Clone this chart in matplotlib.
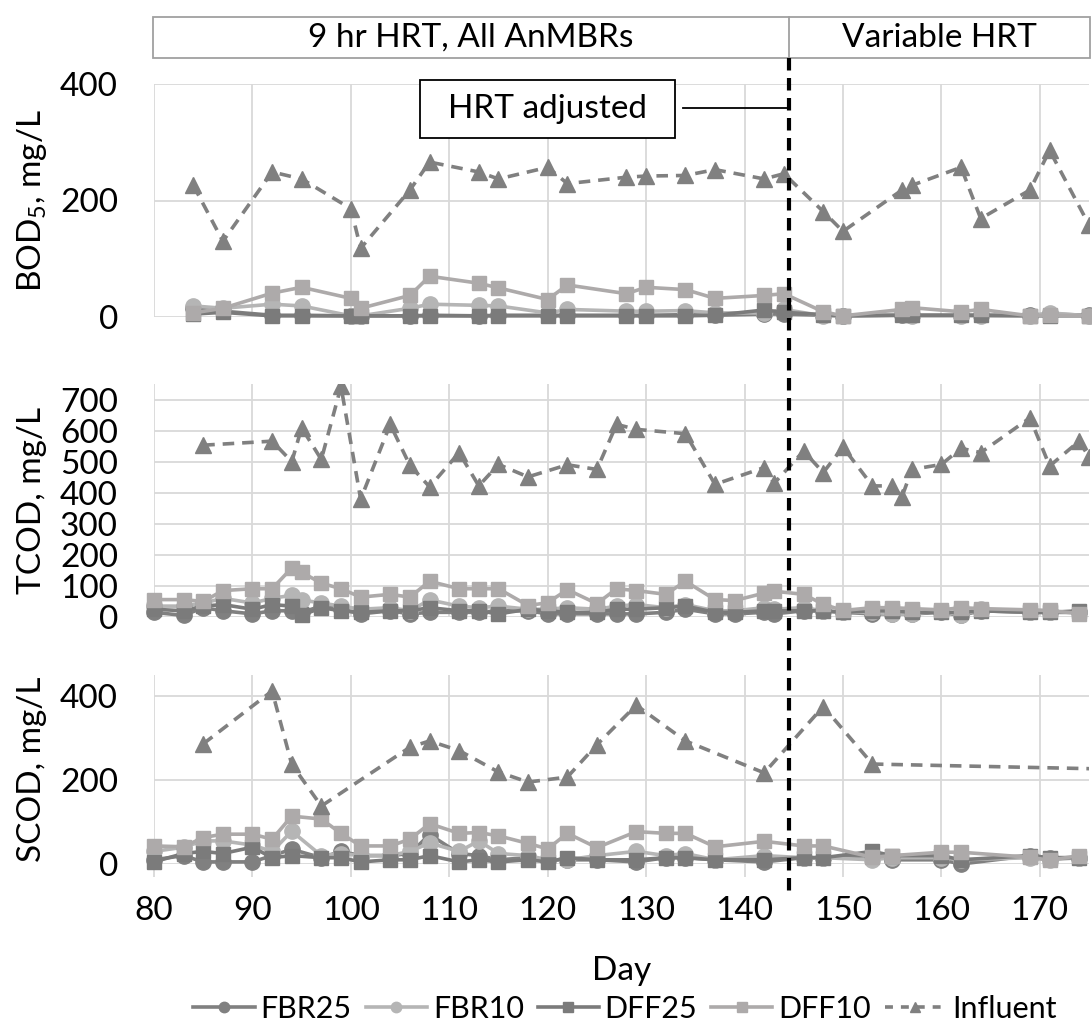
import matplotlib
matplotlib.use('Agg')
import matplotlib.pyplot as plt
from matplotlib.lines import Line2D
from matplotlib.patches import Rectangle

plt.rcParams['font.family'] = ['Lato', 'DejaVu Sans']
plt.rcParams['mathtext.fontset'] = 'custom'
plt.rcParams['mathtext.rm'] = 'Lato'
plt.rcParams['mathtext.it'] = 'Lato:italic'
plt.rcParams['mathtext.bf'] = 'Lato:bold'

# ---------------- data ----------------
series_names = ['FBR25', 'FBR10', 'DFF25', 'DFF10', 'Influent']

bod_days = [84, 87, 92, 95, 100, 101, 106, 108, 113, 115, 120, 122, 128, 130,
            134, 137, 142, 144, 148, 150, 156, 157, 162, 164, 169, 171, 175]
bod_fbr25 = [15, 10, 3, 3, 2, 2, 2, 3, 2, 3, 3, 3, 3, 3, 4, 3, 5, 5, 3, 2, 3, 3, 3, 3, 3, 5, 3]
bod_fbr10 = [19, 15, 22, 19, 2, 2, 15, 22, 20, 19, 7, 13, 10, 10, 11, 7, 7, 13, 2, 2, 5, 2, 2, 2, 2, 7, 2]
bod_dff25 = [5, 8, 2, 2, 2, 2, 2, 2, 2, 2, 2, 2, 2, 2, 2, 3, 12, 8, 4, 2, 3, 3, 3, 3, 2, 2, 2]
bod_dff10 = [7, 15, 41, 51, 32, 15, 37, 70, 58, 50, 30, 55, 40, 51, 47, 32, 37, 40, 9, 2, 13, 16, 9, 13, 2, 3, 2]
bod_infl = [226, 130, 249, 237, 186, 118, 218, 266, 249, 237, 257, 229, 240, 242,
            243, 253, 237, 246, 181, 147, 218, 226, 257, 169, 218, 286, 158]

tcod_days = [80, 83, 85, 87, 90, 92, 94, 95, 97, 99, 101, 104, 106, 108, 111, 113, 115, 118,
             120, 122, 125, 127, 129, 132, 134, 137, 139, 142, 143, 146, 148, 150, 153, 155,
             157, 160, 162, 164, 169, 171, 174]
tcod_fbr25 = [15, 5, 30, 20, 10, 20, 20, 15, 35, 25, 10, 20, 10, 15, 15, 15, 20, 20,
              10, 10, 10, 10, 10, 15, 25, 10, 10, 15, 10, 20, 20, 15, 10, 10,
              10, 15, 5, 20, 15, 15, 15]
tcod_fbr10 = [35, 35, 45, 60, 45, 60, 70, 55, 45, 35, 25, 30, 20, 55, 35, 30, 35, 25,
              25, 30, 25, 35, 40, 30, 40, 20, 20, 30, 25, 30, 20, 15, 15, 10,
              10, 20, 5, 25, 15, 15, 15]
tcod_dff25 = [25, 20, 35, 40, 25, 40, 35, 5, 30, 20, 15, 20, 20, 30, 20, 20, 10, 25,
              20, 15, 15, 25, 25, 30, 35, 15, 15, 20, 20, 20, 20, 15, 20, 20,
              15, 15, 15, 20, 15, 15, 20]
tcod_dff10 = [56, 56, 50, 85, 91, 91, 158, 144, 109, 91, 64, 73, 64, 115, 91, 91, 91, 37,
              46, 88, 43, 91, 85, 73, 115, 56, 53, 77, 83, 73, 41, 21, 30, 30,
              27, 23, 30, 27, 23, 21, 11]
tcod_infl_days = [85, 92, 94, 95, 97, 99, 101, 104, 106, 108, 111, 113, 115, 118, 122, 125,
                  127, 129, 134, 137, 142, 143, 146, 148, 150, 153, 155, 156, 157, 160,
                  162, 164, 169, 171, 174, 175]
tcod_infl = [553, 566, 500, 609, 507, 742, 379, 620, 488, 419, 529, 422, 491, 451, 490, 475,
             620, 604, 590, 427, 481, 430, 534, 465, 547, 422, 422, 387, 475, 491,
             543, 529, 641, 486, 566, 515]

scod_days = [80, 83, 85, 87, 90, 92, 94, 97, 99, 101, 104, 106, 108, 111, 113, 115, 118, 120,
             122, 125, 129, 132, 134, 137, 142, 146, 148, 153, 155, 160, 162, 169, 171, 174]
scod_fbr25 = [10, 20, 5, 5, 5, 20, 35, 15, 30, 20, 20, 25, 70, 25, 20, 10, 15, 10,
              10, 10, 5, 15, 15, 10, 5, 15, 15, 20, 10, 10, 0, 20, 15, 15]
scod_fbr10 = [30, 40, 55, 55, 45, 30, 78, 20, 25, 20, 20, 30, 50, 30, 55, 25, 20, 10,
              10, 20, 30, 20, 25, 10, 20, 15, 15, 10, 15, 15, 10, 15, 10, 15]
scod_dff25 = [5, 25, 30, 25, 40, 15, 20, 15, 15, 5, 10, 10, 20, 5, 10, 5, 10, 5,
              15, 10, 10, 15, 15, 10, 10, 15, 15, 30, 20, 20, 10, 20, 15, 15]
scod_dff10 = [43, 41, 63, 71, 71, 59, 114, 107, 73, 43, 43, 59, 96, 73, 75, 67, 49, 36,
              73, 39, 77, 73, 73, 41, 54, 43, 43, 16, 20, 28, 28, 16, 9, 20]
scod_infl_days = [85, 92, 94, 97, 106, 108, 111, 115, 118, 122, 125, 129, 134, 142, 148, 153, 177]
scod_infl = [286, 412, 237, 138, 278, 293, 270, 219, 195, 207, 284, 378, 293, 217, 375, 238, 226]

x_ticks = [80, 90, 100, 110, 120, 130, 140, 150, 160, 170]
x_limits = (80, 175)
hrt_change_day = 144.5

# ---------------- styles ----------------
styles = {
    'FBR25': dict(color='#808080', marker='o', ms=11, lw=2.6, ls='-'),
    'FBR10': dict(color='#b5b5b5', marker='o', ms=11, lw=2.6, ls='-'),
    'DFF25': dict(color='#7b7b7b', marker='s', ms=10, lw=2.6, ls='-'),
    'DFF10': dict(color='#adaaaa', marker='s', ms=10, lw=2.6, ls='-'),
    'Influent': dict(color='#808080', marker='^', ms=11, lw=2.6, ls=(0, (3.2, 2.2))),
}
FS = 24

W, H = 1092, 1024
fig = plt.figure(figsize=(W / 100, H / 100), dpi=100)


def box(l, t, r, b):
    return [l / W, 1 - b / H, (r - l) / W, (b - t) / H]


ax_top = fig.add_axes(box(154, 84, 1089, 317))
ax_mid = fig.add_axes(box(154, 384, 1089, 617))
ax_bot = fig.add_axes(box(154, 675, 1089, 864))

panels = [
    (ax_top, bod_days, [bod_fbr25, bod_fbr10, bod_dff25, bod_dff10], bod_days, bod_infl,
     (0, 400), [0, 200, 400], 'BOD$_5$, mg/L'),
    (ax_mid, tcod_days, [tcod_fbr25, tcod_fbr10, tcod_dff25, tcod_dff10], tcod_infl_days, tcod_infl,
     (0, 750), [0, 100, 200, 300, 400, 500, 600, 700], 'TCOD, mg/L'),
    (ax_bot, scod_days, [scod_fbr25, scod_fbr10, scod_dff25, scod_dff10], scod_infl_days, scod_infl,
     (0, 450), [0, 200, 400], 'SCOD, mg/L'),
]

grid_c = '#d9d9d9'
for ax, days, effl, idays, infl, ylim, yticks, ylabel in panels:
    for name, vals in zip(series_names[:4], effl):
        ax.plot(days, vals, clip_on=False, zorder=3, **styles[name])
    ax.plot(idays, infl, clip_on=True, zorder=4, **styles['Influent'])
    ax.set_xlim(*x_limits)
    ax.set_ylim(*ylim)
    ax.set_xticks(x_ticks)
    ax.set_yticks(yticks)
    ax.grid(True, color=grid_c, lw=1.3, zorder=0)
    ax.set_axisbelow(True)
    for s in ax.spines.values():
        s.set_visible(False)
    ax.tick_params(axis='y', length=0, pad=26, labelsize=FS)
    ax.tick_params(axis='x', length=0, labelbottom=False)
    bb = ax.get_position()
    fig.text(32 / W, (bb.y0 + bb.y1) / 2, ylabel, rotation=90, ha='center', va='center',
             fontsize=FS)

ax_bot.tick_params(axis='x', length=9, width=1.3, color=grid_c, direction='out',
                   pad=14, labelbottom=True, labelsize=FS)

# ---------------- annotations ----------------
xpix = ax_top.transData.transform((hrt_change_day, 0))[0]
xfig = xpix / W

# header box
hdr_top, hdr_bot = 17, 58
fig.patches.append(Rectangle((153 / W, 1 - hdr_bot / H), (1090 - 153) / W, (hdr_bot - hdr_top) / H,
                             transform=fig.transFigure, fill=False, ec='#a0a0a0', lw=1.3))
fig.lines.append(Line2D([xfig, xfig], [1 - hdr_top / H, 1 - hdr_bot / H], transform=fig.transFigure,
                        color='#a0a0a0', lw=1.3))
fig.text((153 / W + xfig) / 2, 1 - 38 / H, '9 hr HRT, All AnMBRs', ha='center', va='center', fontsize=FS)
fig.text((xfig + 1090 / W) / 2, 1 - 38 / H, 'Variable HRT', ha='center', va='center', fontsize=FS)

# vertical dashed line
fig.lines.append(Line2D([xfig, xfig], [1 - hdr_bot / H, 1 - 896 / H], transform=fig.transFigure,
                        color='black', lw=3, ls=(0, (3, 1.8)), zorder=10))

# HRT adjusted box
bl, bt, br, bbm = 420, 80, 675, 138
fig.patches.append(Rectangle((bl / W, 1 - bbm / H), (br - bl) / W, (bbm - bt) / H,
                             transform=fig.transFigure, fc='white', ec='black', lw=1.3, zorder=5))
fig.text((bl + br) / 2 / W, 1 - (bt + bbm) / 2 / H, 'HRT adjusted', ha='center', va='center',
         fontsize=FS, zorder=6)
fig.lines.append(Line2D([(br + 8) / W, xfig], [1 - 108 / H, 1 - 108 / H], transform=fig.transFigure,
                        color='black', lw=1.3))

# x label & legend
fig.text(622 / W, 1 - 971 / H, 'Day', ha='center', va='center', fontsize=FS)
handles = [Line2D([], [], **{**styles[n], 'ms': 7.5}) for n in series_names]
handles[-1].set_linestyle((0, (2.2, 2.2)))
fig.legend(handles, series_names, loc='center', bbox_to_anchor=(625 / W, 1 - 1009 / H), ncol=5,
           frameon=False, fontsize=22, handlelength=2.0, handletextpad=0.2, columnspacing=0.45,
           borderpad=0, borderaxespad=0)

fig.savefig('out.png', dpi=100)
